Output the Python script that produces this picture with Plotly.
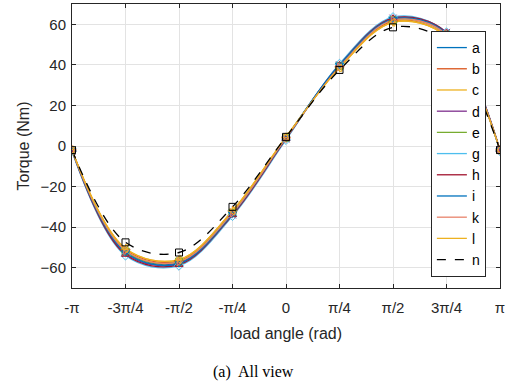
import numpy as np
import plotly.graph_objects as go

# load angle positions (multiples of pi/4)
angle_steps = [-4, -3, -2, -1, 0, 1, 2, 3, 4]
tick_labels = ["-π", "-3π/4", "-π/2", "-π/4", "0", "π/4", "π/2", "3π/4", "π"]

series_names = ["a", "b", "c", "d", "e", "g", "h", "i", "k", "l", "n"]
a = [-2.0, -52.0, -57.5, -33.0, 4.0, 39.5, 62.5, 55.0, -2.0]
b = [-2.0, -51.0, -56.5, -32.0, 4.0, 39.0, 61.5, 54.0, -2.0]
c = [-2.0, -50.5, -56.0, -32.0, 4.5, 38.5, 61.0, 54.0, -2.0]
d = [-2.5, -53.0, -58.0, -34.0, 3.5, 40.0, 63.0, 56.0, -2.0]
e = [-2.0, -52.0, -57.0, -33.0, 4.0, 39.5, 62.0, 55.0, -2.0]
g = [-2.5, -54.0, -59.0, -34.5, 3.0, 40.5, 63.5, 56.0, -2.5]
h = [-2.0, -53.5, -58.5, -34.0, 3.5, 40.0, 63.0, 56.0, -2.0]
i = [-2.0, -52.5, -58.0, -33.5, 4.0, 40.0, 62.5, 55.5, -2.0]
k = [-2.0, -51.5, -57.0, -33.0, 4.0, 39.0, 62.0, 55.0, -2.0]
l = [-2.0, -50.5, -56.0, -32.0, 4.5, 38.5, 61.0, 54.0, -2.0]
n = [-2.0, -47.5, -52.5, -30.0, 4.5, 37.5, 58.5, 51.0, -2.0]
values = [a, b, c, d, e, g, h, i, k, l, n]

colors = ["#0072BD", "#D95319", "#EDB120", "#7E2F8E", "#77AC30", "#4DBEEE",
          "#A2142F", "#0072BD", "#E8836B", "#EDB120", "#000000"]
symbols = ["circle-open", "cross-thin-open", "asterisk-open", "x-thin-open",
           "square-open", "diamond-open", "triangle-up-open", "triangle-down-open",
           "triangle-right-open", "triangle-left-open", "square-open"]

x = [s * np.pi / 4 for s in angle_steps]

fig = go.Figure()
for name, vals, col, sym in zip(series_names, values, colors, symbols):
    dash = "dash" if name == "n" else "solid"
    fig.add_trace(go.Scatter(
        x=x, y=vals, mode="lines", name=name,
        line=dict(color=col, width=1.3, dash=dash, shape="spline", smoothing=1.0),
    ))
for name, vals, col, sym in zip(series_names, values, colors, symbols):
    fig.add_trace(go.Scatter(
        x=x, y=vals, mode="markers", showlegend=False,
        marker=dict(symbol=sym, size=7, color=col, line=dict(color=col, width=1)),
    ))

axis_col = "#262626"
fig.update_layout(
    width=508, height=388,
    margin=dict(l=72, r=6, t=3, b=100),
    paper_bgcolor="white", plot_bgcolor="white",
    font=dict(family="Liberation Sans, Arial, sans-serif", size=15, color=axis_col),
    showlegend=True,
    legend=dict(
        x=0.967, y=0.905, xanchor="right", yanchor="top",
        bgcolor="white", bordercolor=axis_col, borderwidth=1,
        font=dict(size=14, color="#000000"),
        tracegroupgap=0,
    ),
    xaxis=dict(
        range=[-np.pi, np.pi],
        tickvals=x, ticktext=tick_labels,
        showgrid=True, gridcolor="#e3e3e3", gridwidth=1,
        zeroline=False,
        showline=True, linecolor=axis_col, linewidth=1, mirror="ticks",
        ticks="inside", ticklen=4, tickcolor=axis_col,
        tickfont=dict(size=15),
        ticklabelstandoff=6,
        title=dict(text="load angle (rad)", font=dict(size=16), standoff=12),
    ),
    yaxis=dict(
        range=[-70, 70],
        tickvals=[-60, -40, -20, 0, 20, 40, 60],
        showgrid=True, gridcolor="#e3e3e3", gridwidth=1,
        zeroline=False,
        showline=True, linecolor=axis_col, linewidth=1, mirror="ticks",
        ticks="inside", ticklen=4, tickcolor=axis_col,
        tickfont=dict(size=15),
        ticklabelstandoff=2,
        title=dict(text="Torque (Nm)", font=dict(size=16), standoff=6),
    ),
)

fig.add_annotation(
    text="(a)  All view", xref="paper", yref="paper", x=0.425, y=-0.295,
    xanchor="center", yanchor="middle", showarrow=False,
    font=dict(family="Liberation Serif, Times New Roman, serif", size=16, color="#000000"),
)

fig.write_html("out.html")
